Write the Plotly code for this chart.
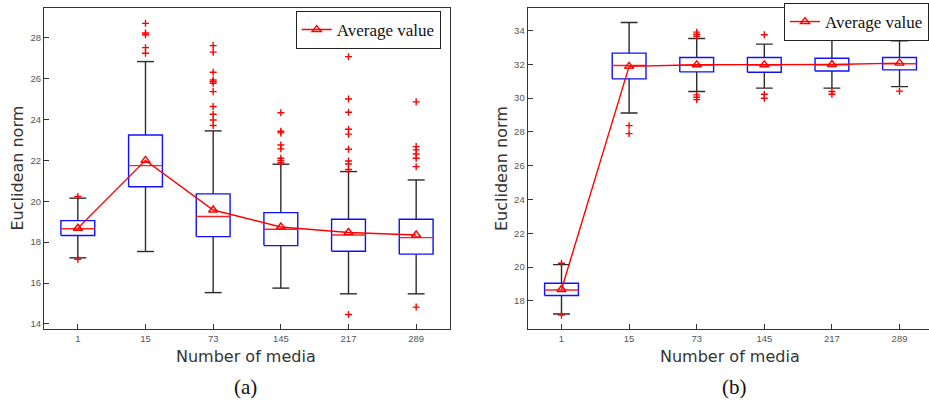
import plotly.graph_objects as go

# Category labels (number of media)
categories = ["1", "15", "73", "145", "217", "289"]

# ---- Panel (a) box statistics ----
a_low = [17.23, 17.54, 15.53, 15.75, 15.47, 15.47]
a_q1 = [18.32, 20.71, 18.27, 17.83, 17.55, 17.41]
a_median = [18.65, 21.74, 19.25, 18.63, 18.35, 18.22]
a_q3 = [19.05, 23.24, 20.36, 19.44, 19.12, 19.12]
a_high = [20.15, 26.83, 23.44, 21.81, 21.45, 21.04]
a_mean = [18.68, 22.00, 19.57, 18.74, 18.47, 18.35]
a_outliers = [
    [20.23, 17.16],
    [28.70, 28.23, 28.14, 27.51, 27.24],
    [27.61, 27.29, 26.31, 25.93, 25.85, 25.77, 25.36, 24.63, 24.25, 23.97, 23.70],
    [24.33, 23.42, 23.34, 22.75, 22.56, 22.10, 21.99, 21.88],
    [27.07, 25.00, 24.35, 23.52, 23.28, 22.54, 21.97, 21.82, 21.55, 14.46],
    [24.86, 22.67, 22.51, 22.31, 22.10, 21.69, 14.82],
]

# ---- Panel (b) box statistics ----
b_low = [17.23, 29.12, 30.39, 30.59, 30.59, 30.68]
b_q1 = [18.32, 31.14, 31.55, 31.53, 31.60, 31.67]
b_median = [18.65, 31.93, 31.95, 31.95, 31.97, 32.03]
b_q3 = [19.05, 32.66, 32.40, 32.40, 32.36, 32.40]
b_high = [20.15, 34.47, 33.53, 33.19, 33.45, 33.39]
b_mean = [18.68, 31.88, 31.97, 31.97, 31.99, 32.07]
b_outliers = [
    [20.23, 17.16],
    [28.37, 27.90],
    [33.90, 33.78, 33.66, 30.19, 30.05, 29.91],
    [33.75, 30.23, 29.99],
    [33.65, 30.39, 30.23],
    [33.55, 30.41],
]

BOX_HALF = 0.25
CAP_HALF = 0.125
W, H = 929, 401


def box_traces(xaxis, yaxis, low, q1, med, q3, high, mean, outliers, legend):
    pos = list(range(1, len(categories) + 1))
    wx, wy, bx, by, mx, my, ox, oy = [], [], [], [], [], [], [], []
    for p, lo, a, m, b, hi, outs in zip(pos, low, q1, med, q3, high, outliers):
        # whiskers and caps
        wx += [p, p, None, p, p, None,
               p - CAP_HALF, p + CAP_HALF, None, p - CAP_HALF, p + CAP_HALF, None]
        wy += [hi, b, None, a, lo, None, hi, hi, None, lo, lo, None]
        # box outline
        bx += [p - BOX_HALF, p + BOX_HALF, p + BOX_HALF, p - BOX_HALF, p - BOX_HALF, None]
        by += [a, a, b, b, a, None]
        # median
        mx += [p - BOX_HALF, p + BOX_HALF, None]
        my += [m, m, None]
        ox += [p] * len(outs)
        oy += outs
    common = dict(xaxis=xaxis, yaxis=yaxis, hoverinfo="skip")
    return [
        go.Scatter(x=wx, y=wy, mode="lines", line=dict(color="#2b2b2b", width=1.4),
                   showlegend=False, **common),
        go.Scatter(x=bx, y=by, mode="lines", line=dict(color="#1010ff", width=1.4),
                   showlegend=False, **common),
        go.Scatter(x=mx, y=my, mode="lines", line=dict(color="#ff2020", width=1.4),
                   showlegend=False, **common),
        go.Scatter(x=ox, y=oy, mode="markers",
                   marker=dict(symbol="cross-thin", size=5, color="#ff0000",
                               line=dict(color="#ff0000", width=1.4)),
                   showlegend=False, **common),
        go.Scatter(x=pos, y=mean, mode="lines+markers", name="Average value",
                   line=dict(color="#ff0000", width=1.4),
                   marker=dict(symbol="triangle-up-open", size=8, color="#ff0000",
                               line=dict(color="#ff0000", width=1.4)),
                   legend=legend, xaxis=xaxis, yaxis=yaxis),
    ]


fig = go.Figure()
for t in box_traces("x", "y", a_low, a_q1, a_median, a_q3, a_high, a_mean, a_outliers, "legend"):
    fig.add_trace(t)
for t in box_traces("x2", "y2", b_low, b_q1, b_median, b_q3, b_high, b_mean, b_outliers, "legend2"):
    fig.add_trace(t)

tick_font = dict(family="Liberation Sans, Arial, sans-serif", size=9.5, color="#555555")
ydom = [1 - 329 / H, 1 - 8 / H]
axis_common = dict(showline=True, linecolor="#333333", linewidth=1.2, mirror=True,
                   ticks="inside", ticklen=5, tickcolor="#333333", tickwidth=1,
                   showgrid=False, zeroline=False, tickfont=tick_font)
pos = list(range(1, len(categories) + 1))
legend_font = dict(family="Liberation Serif, Times New Roman, serif", size=17, color="#111111")

fig.update_layout(
    width=W, height=H,
    margin=dict(l=0, r=0, t=0, b=0, autoexpand=False),
    paper_bgcolor="white", plot_bgcolor="white",
    xaxis=dict(domain=[44 / W, 450 / W], range=[0.5, 6.5], tickvals=pos, ticktext=categories,
               anchor="y", **axis_common),
    yaxis=dict(domain=ydom, range=[13.75, 29.45], tickvals=list(range(14, 29, 2)),
               anchor="x", **axis_common),
    xaxis2=dict(domain=[527.7 / W, 1.0], range=[0.5, 6.436], tickvals=pos, ticktext=categories,
                anchor="y2", **axis_common),
    yaxis2=dict(domain=ydom, range=[16.34, 35.33], tickvals=list(range(18, 35, 2)),
                anchor="x2", **axis_common),
    legend=dict(x=440.7 / W, y=1 - 11 / H, xanchor="right", yanchor="top",
                bgcolor="white", bordercolor="#222222", borderwidth=1,
                font=legend_font, itemwidth=30, tracegroupgap=0),
    legend2=dict(x=784 / W, y=1 - 3 / H, xanchor="left", yanchor="top",
                 bgcolor="white", bordercolor="#222222", borderwidth=1,
                 font=legend_font, itemwidth=30, tracegroupgap=0),
)

title_font = dict(family="DejaVu Sans, sans-serif", size=16, color="#333333")
panel_font = dict(family="Liberation Serif, Times New Roman, serif", size=21, color="#111111")
annotations = [
    dict(text="Euclidean norm", x=17 / W, y=1 - 168.5 / H, textangle=-90, font=title_font),
    dict(text="Euclidean norm", x=501.5 / W, y=1 - 168.5 / H, textangle=-90, font=title_font),
    dict(text="Number of media", x=246 / W, y=1 - 356 / H, font=title_font),
    dict(text="Number of media", x=730 / W, y=1 - 356 / H, font=title_font),
    dict(text="(a)", x=245 / W, y=1 - 387 / H, font=panel_font),
    dict(text="(b)", x=734 / W, y=1 - 387 / H, font=panel_font),
]
for a in annotations:
    fig.add_annotation(xref="paper", yref="paper", showarrow=False,
                       xanchor="center", yanchor="middle", **a)

fig.write_html("out.html")
